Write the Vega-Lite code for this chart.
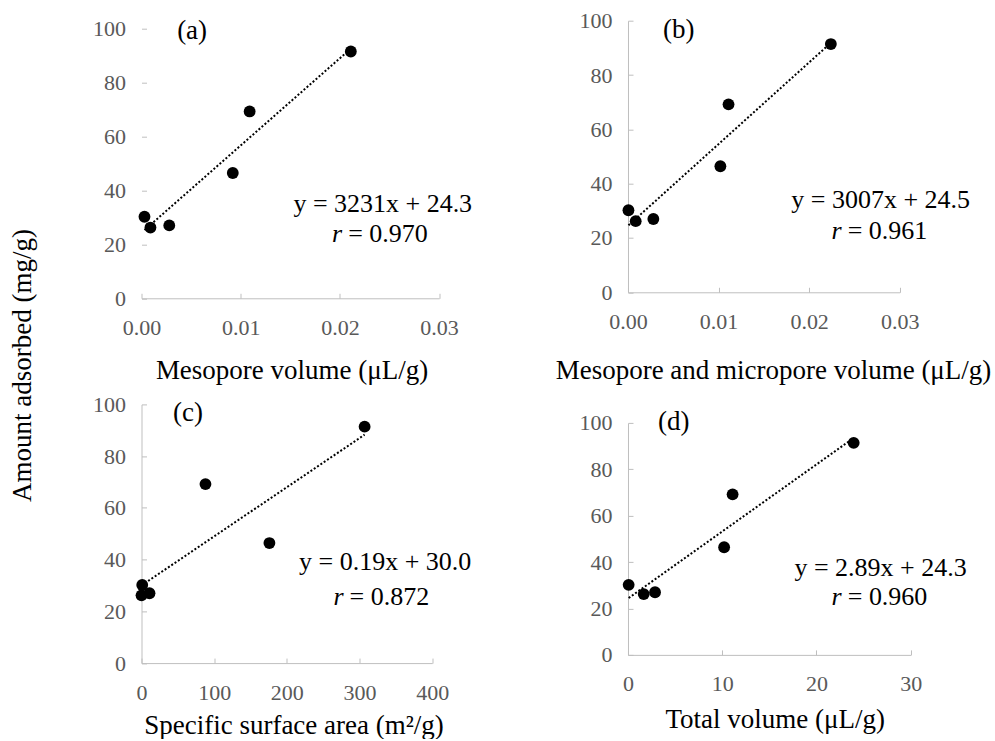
{
  "$schema": "https://vega.github.io/schema/vega-lite/v6.json",
  "background": "white",
  "padding": {"left": 8.5, "top": 9.7, "right": 0, "bottom": 0},
  "datasets": {
    "pts": [
      {"panel": "a", "x": 0.0003, "y": 30.2}, {"panel": "a", "x": 0.0009, "y": 26.2}, {"panel": "a", "x": 0.0028, "y": 27.0},
      {"panel": "a", "x": 0.0092, "y": 46.4}, {"panel": "a", "x": 0.0109, "y": 69.2}, {"panel": "a", "x": 0.0211, "y": 91.4},
      {"panel": "b", "x": 0.00005, "y": 30.2}, {"panel": "b", "x": 0.00085, "y": 26.2}, {"panel": "b", "x": 0.0028, "y": 27.0},
      {"panel": "b", "x": 0.0102, "y": 46.4}, {"panel": "b", "x": 0.0111, "y": 69.2}, {"panel": "b", "x": 0.0224, "y": 91.4},
      {"panel": "c", "x": 1, "y": 30.2}, {"panel": "c", "x": 0, "y": 26.2}, {"panel": "c", "x": 11, "y": 27.0},
      {"panel": "c", "x": 176, "y": 46.4}, {"panel": "c", "x": 88, "y": 69.2}, {"panel": "c", "x": 307, "y": 91.4},
      {"panel": "d", "x": 0.07, "y": 30.2}, {"panel": "d", "x": 1.67, "y": 26.2}, {"panel": "d", "x": 2.87, "y": 27.0},
      {"panel": "d", "x": 10.2, "y": 46.4}, {"panel": "d", "x": 11.1, "y": 69.2}, {"panel": "d", "x": 23.95, "y": 91.4}
    ],
    "trend": [
      {"panel": "a", "x": 0.0003, "y": 25.27}, {"panel": "a", "x": 0.0211, "y": 92.47},
      {"panel": "b", "x": 0.00005, "y": 24.65}, {"panel": "b", "x": 0.0224, "y": 91.86},
      {"panel": "c", "x": 0, "y": 30.0}, {"panel": "c", "x": 307, "y": 88.3},
      {"panel": "d", "x": 0.07, "y": 24.5}, {"panel": "d", "x": 23.95, "y": 93.5}
    ],
    "txt": [
      {"panel": "a", "kind": "eq", "x": 0.02432, "y": 32.1, "text": "y = 3231x + 24.3"},
      {"panel": "a", "kind": "r", "x": 0.02053, "y": 21.0, "text": "r"},
      {"panel": "a", "kind": "rv", "x": 0.02053, "y": 21.0, "text": "= 0.970"},
      {"panel": "a", "kind": "tag", "x": 0.0051, "y": 96.2, "text": "(a)"},
      {"panel": "b", "kind": "eq", "x": 0.0279, "y": 30.9, "text": "y = 3007x + 24.5"},
      {"panel": "b", "kind": "r", "x": 0.02393, "y": 19.5, "text": "r"},
      {"panel": "b", "kind": "rv", "x": 0.02393, "y": 19.5, "text": "= 0.961"},
      {"panel": "b", "kind": "tag", "x": 0.0056, "y": 93.5, "text": "(b)"},
      {"panel": "c", "kind": "eq", "x": 335.3, "y": 35.8, "text": "y = 0.19x + 30.0"},
      {"panel": "c", "kind": "r", "x": 282.2, "y": 22.3, "text": "r"},
      {"panel": "c", "kind": "rv", "x": 282.2, "y": 22.3, "text": "= 0.872"},
      {"panel": "c", "kind": "tag", "x": 64, "y": 93.4, "text": "(c)"},
      {"panel": "d", "kind": "eq", "x": 26.8, "y": 34.2, "text": "y = 2.89x + 24.3"},
      {"panel": "d", "kind": "r", "x": 23.0, "y": 21.7, "text": "r"},
      {"panel": "d", "kind": "rv", "x": 23.0, "y": 21.7, "text": "= 0.960"},
      {"panel": "d", "kind": "tag", "x": 4.85, "y": 97.1, "text": "(d)"}
    ]
  },
  "config": {
    "view": {"stroke": null},
    "font": "Liberation Serif",
    "axis": {
      "grid": false, "domainColor": "#bfbfbf", "domainWidth": 1, "tickColor": "#bfbfbf", "tickSize": -5,
      "labelColor": "#595959", "labelFont": "Liberation Serif", "labelFontSize": 22, "labelFlush": false,
      "titleFont": "Liberation Serif", "titleFontSize": 27, "titleFontWeight": "normal", "titleColor": "black", "titleBaseline": "alphabetic"
    },
    "axisX": {"labelPadding": 24},
    "axisY": {"labelPadding": 21.1},
    "title": {"font": "Liberation Serif"}
  },
  "spacing": 82.5,
  "hconcat": [
    {
      "bounds": "flush",
      "spacing": 105.7,
      "vconcat": [
        {
          "width": 297.6, "height": 277.6,
          "encoding": {
            "x": {"field": "x", "type": "quantitative", "scale": {"domain": [0, 0.03], "nice": false, "zero": false},
              "axis": {"title": "Mesopore volume (μL/g)", "values": [0, 0.01, 0.02, 0.03], "format": ".2f", "titleX": 150, "titleY": 80.7}},
            "y": {"field": "y", "type": "quantitative", "scale": {"domain": [0, 102.815], "nice": false},
              "axis": {"title": "Amount adsorbed (mg/g)", "domain": false, "values": [0, 20, 40, 60, 80, 100], "titleX": -110.7, "titleY": 344.3}}
          },
          "layer": [
            {"data": {"values": [{}]}, "mark": {"type": "rule", "color": "#bfbfbf", "strokeWidth": 1}, "encoding": {"x": {"datum": 0, "type": "quantitative"}, "y": {"datum": 0, "type": "quantitative"}, "y2": {"datum": 100}}},
            {"data": {"name": "trend"}, "transform": [{"filter": "datum.panel === 'a'"}], "mark": {"type": "line", "color": "black", "strokeDash": [2, 2], "strokeWidth": 2}},
            {"data": {"name": "pts"}, "transform": [{"filter": "datum.panel === 'a'"}], "mark": {"type": "circle", "color": "black", "size": 140, "opacity": 1}},
            {"data": {"name": "txt"}, "transform": [{"filter": "datum.panel === 'a' && datum.kind === 'eq'"}], "mark": {"type": "text", "align": "center", "baseline": "alphabetic", "fontSize": 26, "color": "black"}, "encoding": {"text": {"field": "text"}}},
            {"data": {"name": "txt"}, "transform": [{"filter": "datum.panel === 'a' && datum.kind === 'r'"}], "mark": {"type": "text", "align": "right", "baseline": "alphabetic", "fontSize": 26, "fontStyle": "italic", "dx": -3, "color": "black"}, "encoding": {"text": {"field": "text"}}},
            {"data": {"name": "txt"}, "transform": [{"filter": "datum.panel === 'a' && datum.kind === 'rv'"}], "mark": {"type": "text", "align": "left", "baseline": "alphabetic", "fontSize": 26, "dx": 3, "color": "black"}, "encoding": {"text": {"field": "text"}}},
            {"data": {"name": "txt"}, "transform": [{"filter": "datum.panel === 'a' && datum.kind === 'tag'"}], "mark": {"type": "text", "align": "center", "baseline": "alphabetic", "fontSize": 27, "color": "black"}, "encoding": {"text": {"field": "text"}}}
          ]
        },
        {
          "width": 290.7, "height": 258.7,
          "encoding": {
            "x": {"field": "x", "type": "quantitative", "scale": {"domain": [0, 400], "nice": false, "zero": false},
              "axis": {"title": "Specific surface area (m²/g)", "values": [0, 100, 200, 300, 400], "titleX": 152, "titleY": 70.3}},
            "y": {"field": "y", "type": "quantitative", "scale": {"domain": [0, 100], "nice": false},
              "axis": {"title": null, "values": [0, 20, 40, 60, 80, 100]}}
          },
          "layer": [
            {"data": {"name": "trend"}, "transform": [{"filter": "datum.panel === 'c'"}], "mark": {"type": "line", "color": "black", "strokeDash": [2, 2], "strokeWidth": 2}},
            {"data": {"name": "pts"}, "transform": [{"filter": "datum.panel === 'c'"}], "mark": {"type": "circle", "color": "black", "size": 140, "opacity": 1}},
            {"data": {"name": "txt"}, "transform": [{"filter": "datum.panel === 'c' && datum.kind === 'eq'"}], "mark": {"type": "text", "align": "center", "baseline": "alphabetic", "fontSize": 26, "color": "black"}, "encoding": {"text": {"field": "text"}}},
            {"data": {"name": "txt"}, "transform": [{"filter": "datum.panel === 'c' && datum.kind === 'r'"}], "mark": {"type": "text", "align": "right", "baseline": "alphabetic", "fontSize": 26, "fontStyle": "italic", "dx": -3, "color": "black"}, "encoding": {"text": {"field": "text"}}},
            {"data": {"name": "txt"}, "transform": [{"filter": "datum.panel === 'c' && datum.kind === 'rv'"}], "mark": {"type": "text", "align": "left", "baseline": "alphabetic", "fontSize": 26, "dx": 3, "color": "black"}, "encoding": {"text": {"field": "text"}}},
            {"data": {"name": "txt"}, "transform": [{"filter": "datum.panel === 'c' && datum.kind === 'tag'"}], "mark": {"type": "text", "align": "center", "baseline": "alphabetic", "fontSize": 27, "color": "black"}, "encoding": {"text": {"field": "text"}}}
          ]
        }
      ]
    },
    {
      "spacing": 22.2,
      "vconcat": [
        {
          "width": 271.7, "height": 271.6,
          "encoding": {
            "x": {"field": "x", "type": "quantitative", "scale": {"domain": [0, 0.03], "nice": false, "zero": false},
              "axis": {"title": "Mesopore and micropore volume (μL/g)", "values": [0, 0.01, 0.02, 0.03], "format": ".2f", "titleX": 145, "titleY": 86.7}},
            "y": {"field": "y", "type": "quantitative", "scale": {"domain": [0, 100], "nice": false},
              "axis": {"title": null, "values": [0, 20, 40, 60, 80, 100]}}
          },
          "layer": [
            {"data": {"name": "trend"}, "transform": [{"filter": "datum.panel === 'b'"}], "mark": {"type": "line", "color": "black", "strokeDash": [2, 2], "strokeWidth": 2}},
            {"data": {"name": "pts"}, "transform": [{"filter": "datum.panel === 'b'"}], "mark": {"type": "circle", "color": "black", "size": 140, "opacity": 1}},
            {"data": {"name": "txt"}, "transform": [{"filter": "datum.panel === 'b' && datum.kind === 'eq'"}], "mark": {"type": "text", "align": "center", "baseline": "alphabetic", "fontSize": 26, "color": "black"}, "encoding": {"text": {"field": "text"}}},
            {"data": {"name": "txt"}, "transform": [{"filter": "datum.panel === 'b' && datum.kind === 'r'"}], "mark": {"type": "text", "align": "right", "baseline": "alphabetic", "fontSize": 26, "fontStyle": "italic", "dx": -3, "color": "black"}, "encoding": {"text": {"field": "text"}}},
            {"data": {"name": "txt"}, "transform": [{"filter": "datum.panel === 'b' && datum.kind === 'rv'"}], "mark": {"type": "text", "align": "left", "baseline": "alphabetic", "fontSize": 26, "dx": 3, "color": "black"}, "encoding": {"text": {"field": "text"}}},
            {"data": {"name": "txt"}, "transform": [{"filter": "datum.panel === 'b' && datum.kind === 'tag'"}], "mark": {"type": "text", "align": "center", "baseline": "alphabetic", "fontSize": 27, "color": "black"}, "encoding": {"text": {"field": "text"}}}
          ]
        },
        {
          "width": 282.7, "height": 232,
          "encoding": {
            "x": {"field": "x", "type": "quantitative", "scale": {"domain": [0, 30], "nice": false, "zero": false},
              "axis": {"title": "Total volume (μL/g)", "values": [0, 10, 20, 30], "titleX": 146.7, "titleY": 72.7}},
            "y": {"field": "y", "type": "quantitative", "scale": {"domain": [0, 100], "nice": false},
              "axis": {"title": null, "values": [0, 20, 40, 60, 80, 100]}}
          },
          "layer": [
            {"data": {"name": "trend"}, "transform": [{"filter": "datum.panel === 'd'"}], "mark": {"type": "line", "color": "black", "strokeDash": [2, 2], "strokeWidth": 2}},
            {"data": {"name": "pts"}, "transform": [{"filter": "datum.panel === 'd'"}], "mark": {"type": "circle", "color": "black", "size": 140, "opacity": 1}},
            {"data": {"name": "txt"}, "transform": [{"filter": "datum.panel === 'd' && datum.kind === 'eq'"}], "mark": {"type": "text", "align": "center", "baseline": "alphabetic", "fontSize": 26, "color": "black"}, "encoding": {"text": {"field": "text"}}},
            {"data": {"name": "txt"}, "transform": [{"filter": "datum.panel === 'd' && datum.kind === 'r'"}], "mark": {"type": "text", "align": "right", "baseline": "alphabetic", "fontSize": 26, "fontStyle": "italic", "dx": -3, "color": "black"}, "encoding": {"text": {"field": "text"}}},
            {"data": {"name": "txt"}, "transform": [{"filter": "datum.panel === 'd' && datum.kind === 'rv'"}], "mark": {"type": "text", "align": "left", "baseline": "alphabetic", "fontSize": 26, "dx": 3, "color": "black"}, "encoding": {"text": {"field": "text"}}},
            {"data": {"name": "txt"}, "transform": [{"filter": "datum.panel === 'd' && datum.kind === 'tag'"}], "mark": {"type": "text", "align": "center", "baseline": "alphabetic", "fontSize": 27, "color": "black"}, "encoding": {"text": {"field": "text"}}}
          ]
        }
      ]
    }
  ]
}
